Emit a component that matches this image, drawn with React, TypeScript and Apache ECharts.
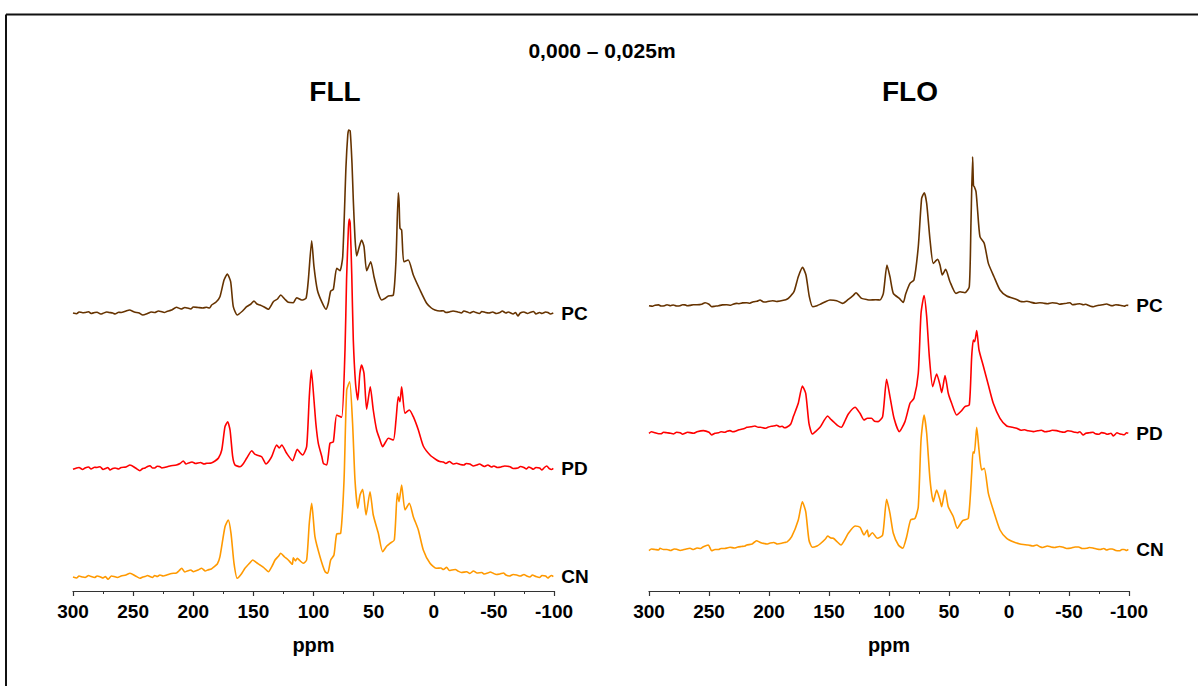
import React, { useEffect, useRef } from "react";
import * as echarts from "echarts";

// ---- DATA (ppm, intensity above each trace's own baseline) ----
const PANEL_TITLES = ["FLL", "FLO"];
const MAIN_TITLE = "0,000 – 0,025m";
const TRACE_NAMES = ["PC", "PD", "CN"];
const TRACE_COLORS = ["#663300", "#FF0000", "#FF9900"];
const X_TICKS_MIN = -100;
const X_TICKS_MAX = 300;
const X_TICK_STEP = 50;
const X_NAME = "ppm";

const FLL_PC: number[][] = [
  [300,0],[297,-0.8],[295,1],[292,0.3],[290,0.5],[287,1.2],[285,-0.5],[282,0.5],[280,0.8],[277,-1],[275,-0.3],[272,1],[270,0.5],[267,0],[265,-1],[262,0.8],[260,0.5],[256,2],[253,3],[249,1],[245,0],[242,-2],[238,-0.5],[235,1],[232,0.5],[229,2],[227,1.5],[224,0.5],[222,1.5],[218,3],[214,5.7],[210,4],[207,5.5],[205,5],[202,4],[200,6],[196,5.5],[192,5],[189,5.7],[186.5,5],[184.7,8],[181,11],[177.8,16.3],[174.4,33],[171.7,39],[168.9,31.3],[166.7,6.3],[163.4,-2],[159,2],[155.6,6.3],[152,9],[149.5,12],[147,9],[144.5,8],[141,6],[137.6,3.7],[133.4,11.3],[130,14],[127.3,18],[124,14],[121,10.7],[116.8,10.3],[114,15.3],[109.8,13],[106.2,14.7],[104.3,33],[101.5,72.3],[99.6,46.3],[96.8,23],[93.2,11.3],[89.6,3.7],[87.7,9.7],[85.7,22],[83.5,23.7],[80.7,44.7],[78,42.3],[75.7,56.3],[73,146],[71.5,178],[70.7,183],[69.5,182],[68,150],[66.9,113],[65.5,75],[64.1,57],[62,66],[60,73],[58,66.3],[55.8,42.3],[52.4,51.3],[49.7,36.3],[46.1,19.7],[43.3,13],[40,15],[37.8,17],[33.6,18],[31.4,53],[29.5,120.3],[28.8,110],[28.1,84.7],[26.7,83],[24.9,51.3],[21.2,53],[17,38],[11.4,23],[5.9,9.7],[2,5],[-1,3],[-5,2],[-7.9,2.3],[-10,0.5],[-13,1],[-16,2],[-20,1],[-23,0],[-25,2],[-28,1],[-30,0],[-33,1.5],[-35,0.5],[-38,-0.5],[-40,1.5],[-43,0.5],[-46,0],[-49,1],[-52,-0.5],[-55,0.5],[-57,2],[-60,0],[-62,1],[-66,-1],[-68,0.5],[-70,-3],[-72,0],[-75,1],[-78,-0.5],[-80,0.5],[-83,1.5],[-85,-1],[-88,0.5],[-90,-0.5],[-93,1],[-95,0.5],[-97,-1],[-99.4,0]
];
const FLL_PD: number[][] = [
  [300,-0.3],[297,1],[295,1.5],[292,-0.5],[290,1],[287,2],[285,0],[282,1.8],[280,1.5],[277.5,2.3],[275,-0.5],[273,0.5],[271,1.5],[269.2,-1],[267,0.5],[265,1],[262,0],[260,1.5],[256,2],[252.6,4],[248,1],[244.3,-1.7],[242,0.5],[240,1],[238,2.5],[236,3.3],[234,1],[232,1],[230,2.8],[228,2.5],[226,1],[224,1.5],[219.3,3],[214,4],[211,5.5],[208.3,8],[206,5],[204,6],[201,7],[198,5.5],[194,6.5],[191,5],[188.8,5.7],[185,6],[181.9,8],[179,11],[176.3,19],[173.6,42.3],[171.4,47.3],[169.4,39],[167.2,12.3],[165.3,4],[161.1,2.3],[158,6],[155.6,10.7],[151.4,18.3],[149,15],[147.2,14],[143.1,12.3],[139.5,5],[137,8],[134.8,12.3],[130.6,24],[128.5,21],[126.4,24],[122.3,15.7],[117.4,8.3],[113.5,19.7],[111,16],[109,14],[105.7,22.3],[103.5,72.3],[101.8,99],[99.6,69],[98,45],[96,25.7],[93,12],[91.8,5.7],[89,4],[86.3,25.7],[83.5,27.3],[80.7,54],[76.6,51.7],[73.8,119],[72.5,190],[71,240],[70.3,250],[69.5,246],[68.2,195],[66.9,129],[65,85],[63.2,69],[61.5,95],[60,104],[58,95.7],[55.8,59.7],[52.8,82.3],[50.3,59],[47.5,39],[45,30],[42.5,22.3],[40,27],[37.8,30.7],[33.6,29],[31.4,49],[29.5,72.3],[28.1,67.3],[26.7,82.3],[23.9,55.7],[20.3,59],[17,52.3],[12.8,39],[8.7,23],[3.1,14],[-2.4,9],[-5,7.5],[-8,7],[-10,5.5],[-13,7.5],[-16,5],[-19,5.7],[-22,4.5],[-25,4],[-27,5.5],[-30,5],[-33,3],[-35.7,4],[-38,5],[-42,2.5],[-45,4],[-48,2],[-50,3],[-53,1.5],[-56,2],[-59,3],[-63.4,2.3],[-66,0.5],[-70,1],[-72,2.5],[-75,1.5],[-77,0],[-79,2],[-81,1],[-82.8,-0.3],[-85,1.5],[-88,1],[-90,-1],[-92,1.5],[-94,3],[-96,0.5],[-98,-0.5],[-99.4,0.7]
];
const FLL_CN: number[][] = [
  [300,0],[297,-1],[295,1],[292,0],[290,-0.5],[287,1.5],[285,0.5],[282,-0.5],[280,1],[277.5,0.3],[275,-1],[273,0.5],[270.9,-2.3],[268,1],[266,0.5],[263,-0.5],[260,1],[256,2],[252.6,3.7],[248,1],[244.3,-1.3],[242,0],[240,0.5],[238,1.5],[236,0.5],[234,-0.5],[232,1.5],[230,0.5],[227.7,2],[225,1],[222,2],[218,3.5],[214,4],[212,6],[209.6,8.7],[207,5],[205,6],[202,7],[199.9,5.3],[196,7],[193,8.7],[190,6],[188,7],[185,8],[183.3,9.7],[180,13],[177.8,20.3],[173.6,50.3],[170.9,57],[168.6,43.7],[166.1,13.7],[163.4,-1.3],[160,3],[157,8.7],[153,14],[150.6,17],[147,14],[144.5,12],[141,9],[137.6,5.3],[134,12],[132,17],[129,21],[127.3,23.7],[124,20],[121,17],[117.6,12.7],[116.8,19.3],[115,16],[113.5,18.7],[111,16],[108.5,13.7],[105.7,17],[103.5,53.7],[101.5,73.7],[98.8,40.3],[94.6,20.3],[90.4,5.3],[88.2,3.7],[85.7,17],[83,22],[80.7,43],[77.4,43.7],[74.6,97],[72.4,187],[69.9,195.3],[67.5,153.7],[65.5,97],[63.2,68.7],[61.3,82],[59.1,87.7],[56.3,62],[53,85.3],[50.3,62],[46.1,43.7],[42.5,25.3],[39,31],[36.4,33.7],[32.8,37],[30.3,83.7],[28.9,75.3],[26.7,92],[23.9,67],[20.3,73.7],[17,60.3],[12.8,47],[8.7,27],[3.1,13.7],[-2.4,8.7],[-6,9],[-8,7.5],[-10.7,9.7],[-13,6.5],[-15,7],[-18,7.5],[-20,6],[-23,4.5],[-27.4,5.3],[-30,3.5],[-33,6],[-36,4],[-40,4.5],[-42,3],[-45,4],[-47,5],[-49.5,3.7],[-52,2.5],[-55,3],[-58,4],[-60,2],[-63,1],[-66,2.5],[-69,2],[-72,1],[-75,2.5],[-77.3,1],[-80,0],[-82,2],[-85,0.5],[-88,-0.5],[-90,1.5],[-93,1],[-95,-1],[-96,0],[-98,1.5],[-99.4,0.3]
];
const FLO_PC: number[][] = [
  [300,0],[297,-0.5],[295,0.5],[292,0.8],[290,-0.3],[287,0],[285,1],[282,0],[279.7,0.7],[277,-0.3],[274,0],[272,1],[270,0.8],[268,0],[265.8,0.3],[263,1],[260,1],[256,1.5],[253.3,3],[250,1.5],[247.8,-1],[245,-0.5],[242,0],[239,0.8],[235.3,1],[232,0.5],[230,1.5],[227,2.3],[225,2],[222,2.8],[218.6,3],[216,2.5],[213,4],[210,4.5],[207.5,5.7],[205,4],[203.3,3.7],[200,4.5],[197,5],[194,4.2],[190.8,4.7],[186,6],[183.9,7.3],[179.2,14],[175.6,29],[172,38.3],[169.2,30.7],[166.4,9],[163.6,-1],[160,0],[157.5,1.3],[153,4],[149.2,5.7],[143.6,5],[138.6,2.3],[133.9,6.3],[130,10],[127.5,13],[125,10],[122.8,7.3],[118,6],[115.8,5.7],[111,6],[107.5,5.7],[104.7,12.3],[101.7,40.7],[99.2,29],[96.4,12.3],[91.4,7.3],[88.1,3.3],[86.1,11.7],[82.5,22.3],[79.2,25.7],[75.6,59],[72.8,107.3],[70.6,113],[68.6,102.3],[65.8,65.7],[63.1,42.3],[59.5,46.3],[57.5,40.7],[55.6,30.7],[52.8,36.3],[49.2,24],[44.2,12.3],[40.8,14],[36.7,13],[33.1,19],[31.7,82.3],[30.3,149],[29.6,120],[28.9,119],[27.5,114],[26.4,99],[24.2,69],[20.6,62.3],[17.2,42.3],[12.5,29],[7.5,15.7],[1.9,9.7],[-6.4,6.3],[-9,4.5],[-12,4],[-15,4.5],[-18,3.5],[-22,2.5],[-25.8,3],[-29,2.5],[-32,2],[-36,3],[-40,2.5],[-42,1.5],[-45,2],[-48,2.5],[-50.8,3],[-53,1],[-56,1.5],[-59,2],[-62,1],[-64,1.5],[-66,0.5],[-68,-0.5],[-70.3,-1],[-73,0],[-75,0.5],[-78,1],[-81.4,1.7],[-84,0.5],[-86,0],[-89,1],[-92,0.5],[-94,0],[-96,-0.5],[-98,0.5],[-99.4,0.3]
];
const FLO_PD: number[][] = [
  [300,0],[298,1.5],[295,0.5],[292,-0.5],[290,-0.5],[288,1],[285,0.5],[282,0],[279.7,-0.7],[277,1],[274,0.5],[272,-1],[270,0],[268,1],[265.8,0.7],[263,0],[260,1.5],[254.7,2.7],[250,1],[247.8,-1.7],[245,0],[242,0.5],[240,1.5],[237,1],[235,2],[232.5,2.7],[230,1.5],[228,2],[225,3.5],[223,4],[220,5],[218.6,6],[215,6.5],[211.7,7.3],[209,6],[207,6],[203.3,5],[201,6],[198,7],[195,7.5],[193.6,8],[191,6.5],[189,7],[187,5.5],[185.3,6],[182,9],[179.7,16.7],[175.6,30],[172.2,47.3],[169.4,40],[166.7,10],[163.9,-0.7],[161,2],[157.5,6],[151.1,17.3],[148.5,14],[146.4,11.7],[143,8],[139.7,6],[136.5,13],[133.9,19.3],[128.3,26],[124.2,20],[120.8,13.3],[118,15],[114.6,15],[112,12],[109,11.7],[105.3,16.7],[102,54],[99.2,36.7],[95.8,15],[91.4,1.7],[86.7,11.7],[82.5,30],[79.2,35],[75.6,60],[73.3,120],[70.8,137.7],[68.6,116.7],[66.4,76.7],[63.6,46.7],[60.3,59.3],[57.5,48.3],[56.1,40.7],[53.3,57.7],[50.6,40],[47.8,30],[43.6,18.3],[40,22],[36.7,26.7],[33.1,28.3],[31.1,76.7],[29.7,93.3],[28.6,91.7],[26.9,102.7],[25,83.3],[21.4,67.3],[17.2,48.3],[13.1,30],[7.5,15],[1.9,7.3],[-3,6],[-6.4,5],[-10,3],[-13,3.5],[-16,2.5],[-20.3,1.7],[-24,2.5],[-27,3],[-30,1.5],[-33,2],[-36,3],[-39.7,2.7],[-43,1.5],[-46,1],[-49,2.5],[-52,2],[-55,1],[-57,0.5],[-59,1.5],[-61.9,-1.7],[-64,0],[-67,0.5],[-70,1],[-72,-0.5],[-75,-1],[-77.2,0.7],[-80,0],[-82,-1],[-85,0],[-87,-2.7],[-90,0.5],[-92,-0.5],[-94,-1],[-96,-1.5],[-98,0.5],[-99.4,0]
];
const FLO_CN: number[][] = [
  [300,-0.7],[298,1],[295,0.5],[292,0],[290.8,1.7],[288,0.5],[285,0.5],[282,-0.5],[279,1],[276.9,0.7],[274,-0.5],[272,0],[269,1],[265.8,1.7],[263,0.5],[260,2],[257,1.5],[254.7,3.3],[250.6,5],[247.8,-0.7],[245,0.5],[242,0.5],[240,1.5],[237,1.5],[235,2],[232.5,2.7],[229,2],[226,3],[223,3.5],[220,4],[218.6,5],[214,6],[212,8],[210.3,9.3],[208,8],[206,7],[204,6.5],[201.9,6],[199,7],[196,7.5],[193,6],[189.4,6.7],[187,7.5],[185,8],[181.1,13.3],[175.6,30],[172.2,48.3],[169.4,38.3],[166.7,10],[163.9,2.7],[160,4],[157.5,6],[153,11],[151.1,14],[148.5,12],[146.4,11.7],[143,8],[140,5],[136.5,11],[133.9,16.7],[128.3,24],[124.2,22.7],[120.8,15],[118.1,20],[116.9,13.3],[113.9,17.3],[109.7,11.7],[105.3,15],[102,50.7],[99.2,36.7],[96.4,16.7],[92.2,5],[88.6,1.7],[85.3,13.3],[82,30],[78.3,31.7],[75.6,43.3],[73.3,110],[70.8,135],[68.6,116.7],[65.8,70],[63.1,48.3],[60.3,60],[57.5,50],[56.1,43.3],[53.3,60],[50.6,43.3],[46.4,33.3],[43.1,21.7],[38.6,29.3],[33.9,31.7],[31.1,76.7],[30,98.3],[28.9,96.7],[26.9,122.7],[25,100],[22.8,80],[20.6,81.7],[17.2,56.7],[13.1,40],[7.5,20],[1.9,11.7],[-4,8],[-9.2,6],[-12,5.5],[-16,5],[-20,4],[-23,5],[-25.8,3.3],[-28,2.5],[-32,4],[-35,3],[-38,2.5],[-42,3.5],[-45.3,2.7],[-48,1.5],[-52,2],[-55,3],[-58,3],[-61,1.5],[-64.7,1.7],[-67,2.5],[-70,2],[-73,1],[-76,0.5],[-79,1.5],[-81.4,0],[-84,1],[-86,1],[-89,-0.5],[-92.5,-0.7],[-94,0.5],[-96,0.5],[-98,-0.5],[-99.4,0.7]
];
// vertical stacking offsets of each trace (PC, PD, CN), in intensity units
const FLL_OFFSETS = [278, 122, 14];
const FLO_OFFSETS = [285.3, 157.7, 41];

const FONT = 'Arial, "Liberation Sans", Helvetica, sans-serif';

function buildSeries(traces: number[][][], offsets: number[], gridIndex: number) {
  return traces.map((tr, i) => ({
    type: "line",
    name: PANEL_TITLES[gridIndex] + " " + TRACE_NAMES[i],
    xAxisIndex: gridIndex,
    yAxisIndex: gridIndex,
    data: tr.map((p) => [p[0], p[1] + offsets[i]]),
    showSymbol: false,
    symbol: "none",
    smooth: 0.2,
    clip: false,
    lineStyle: { color: TRACE_COLORS[i], width: 1.6 },
    itemStyle: { color: TRACE_COLORS[i] },
    z: 3 - i,
    endLabel: {
      show: true,
      formatter: TRACE_NAMES[i],
      color: "#000",
      fontWeight: "bold",
      fontSize: 19,
      fontFamily: FONT,
      align: "left",
      verticalAlign: "middle",
      distance: -8,
    },
  }));
}

function xAxis(gridIndex: number) {
  return {
    type: "value",
    gridIndex,
    min: X_TICKS_MIN,
    max: X_TICKS_MAX,
    interval: X_TICK_STEP,
    inverse: true,
    name: X_NAME,
    nameLocation: "middle",
    nameGap: 44,
    nameTextStyle: { color: "#000", fontWeight: "bold", fontSize: 20, fontFamily: FONT },
    axisLine: { show: true, onZero: false, lineStyle: { color: "#333", width: 1.2 } },
    axisTick: { show: true, length: 5, lineStyle: { color: "#333", width: 1.2 } },
    minorTick: { show: true, splitNumber: 2, length: 3, lineStyle: { color: "#333", width: 1 } },
    splitLine: { show: false },
    axisLabel: { color: "#000", fontWeight: "bold", fontSize: 19, fontFamily: FONT, margin: 11 },
  };
}

function yAxis(gridIndex: number) {
  return {
    type: "value",
    gridIndex,
    min: 0,
    max: 491,
    show: false,
    splitLine: { show: false },
  };
}

export default function App() {
  const ref = useRef<HTMLDivElement>(null);
  useEffect(() => {
    if (!ref.current) return;
    const chart = echarts.init(ref.current, undefined, { renderer: "svg" });
    chart.setOption({
      animation: false,
      backgroundColor: "#fff",
      grid: [
        { left: 73, width: 481, top: 100, bottom: 95 },
        { left: 649, width: 480, top: 100, bottom: 95 },
      ],
      xAxis: [xAxis(0), xAxis(1)],
      yAxis: [yAxis(0), yAxis(1)],
      series: [
        ...buildSeries([FLL_PC, FLL_PD, FLL_CN], FLL_OFFSETS, 0),
        ...buildSeries([FLO_PC, FLO_PD, FLO_CN], FLO_OFFSETS, 1),
      ],
      graphic: [
        { type: "line", shape: { x1: 6, y1: 14.5, x2: 1198, y2: 14.5 }, style: { stroke: "#111", lineWidth: 2 } },
        { type: "line", shape: { x1: 6, y1: 14.5, x2: 6, y2: 686 }, style: { stroke: "#111", lineWidth: 2 } },
        {
          type: "text", x: 602, y: 50,
          style: { text: MAIN_TITLE, fill: "#000", font: "bold 21px " + FONT, align: "center", verticalAlign: "middle" },
        },
        {
          type: "text", x: 335, y: 91,
          style: { text: PANEL_TITLES[0], fill: "#000", font: "bold 28px " + FONT, align: "center", verticalAlign: "middle" },
        },
        {
          type: "text", x: 910, y: 91,
          style: { text: PANEL_TITLES[1], fill: "#000", font: "bold 28px " + FONT, align: "center", verticalAlign: "middle" },
        },
      ],
    });
    return () => chart.dispose();
  }, []);
  return (
    <div
      ref={ref}
      style={{ position: "fixed", left: 0, top: 0, width: 1198, height: 686, background: "#fff" }}
    />
  );
}
